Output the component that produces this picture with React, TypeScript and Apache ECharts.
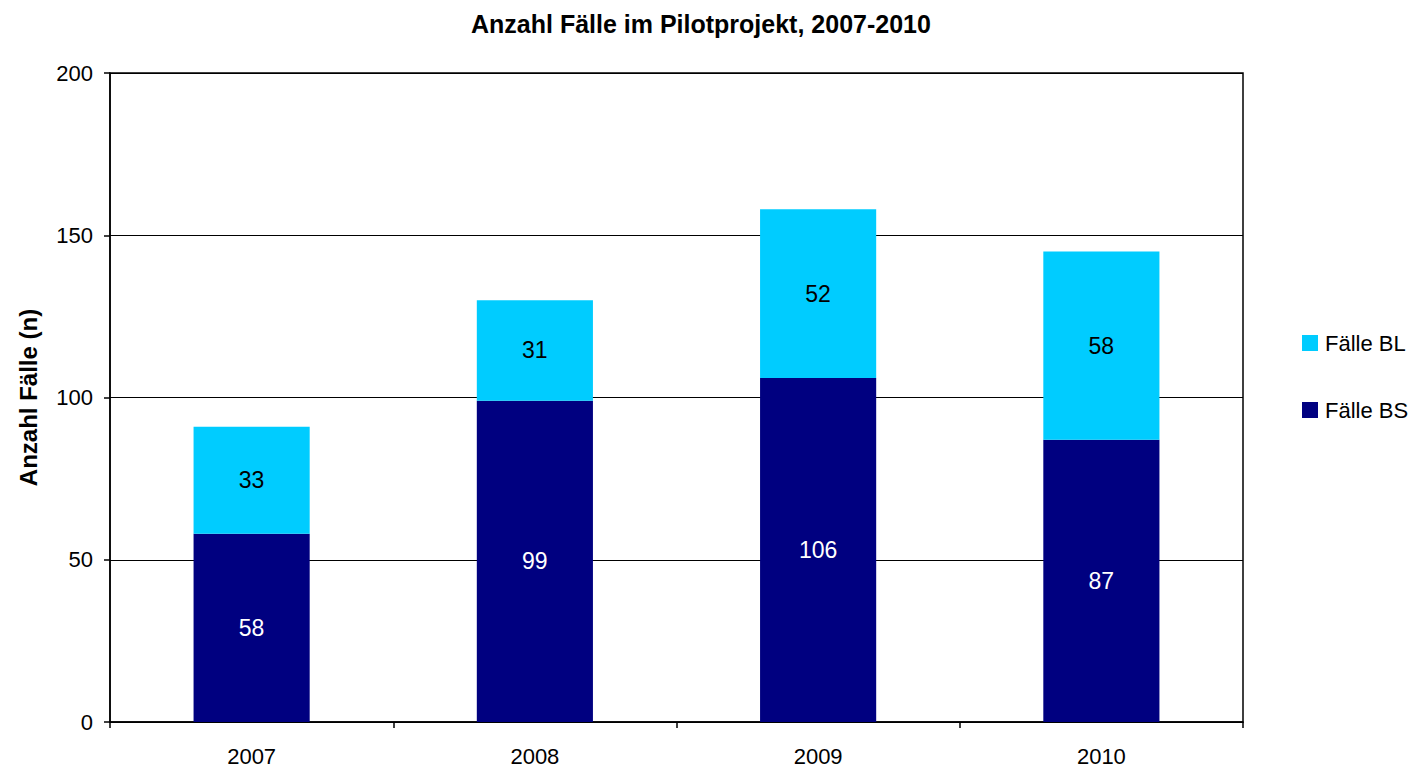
import React, { useEffect, useRef } from "react";
import * as echarts from "echarts";

const categories = ["2007", "2008", "2009", "2010"];
const faelleBS = [58, 99, 106, 87];
const faelleBL = [33, 31, 52, 58];
const yTicks = { min: 0, max: 200, interval: 50 };

const FONT = "'Liberation Sans', Arial, sans-serif";

export default function App() {
  const ref = useRef<HTMLDivElement>(null);
  useEffect(() => {
    document.body.style.margin = "0";
    const chart = echarts.init(ref.current!, undefined, { renderer: "svg" });
    chart.setOption({
      animation: false,
      backgroundColor: "#fff",
      textStyle: { fontFamily: FONT },
      title: {
        text: "Anzahl Fälle im Pilotprojekt, 2007-2010",
        left: 466,
        top: 6,
        textStyle: { fontFamily: FONT, fontSize: 25, fontWeight: "bold", color: "#000" },
      },
      legend: {
        orient: "vertical",
        left: 1297,
        top: 327,
        itemWidth: 16,
        itemHeight: 16,
        itemGap: 45,
        icon: "rect",
        data: ["Fälle BL", "Fälle BS"],
        textStyle: { fontFamily: FONT, fontSize: 22, color: "#000", padding: [0, 0, 0, 2] },
      },
      grid: {
        left: 110,
        right: 168,
        top: 73,
        bottom: 49,
        show: true,
        borderColor: "#000",
        borderWidth: 1.5,
        backgroundColor: "transparent",
      },
      xAxis: {
        type: "category",
        data: categories,
        axisLine: { lineStyle: { color: "#000", width: 1.5 } },
        axisTick: { show: true, alignWithLabel: false, length: 6, lineStyle: { color: "#000", width: 1.5 } },
        axisLabel: { fontFamily: FONT, fontSize: 22, color: "#000", margin: 23 },
      },
      yAxis: {
        type: "value",
        min: yTicks.min,
        max: yTicks.max,
        interval: yTicks.interval,
        name: "Anzahl Fälle (n)",
        nameLocation: "middle",
        nameGap: 70,
        nameTextStyle: { fontFamily: FONT, fontSize: 24, fontWeight: "bold", color: "#000" },
        axisLine: { show: true, lineStyle: { color: "#000", width: 1.5 } },
        axisTick: { show: true, length: 6, lineStyle: { color: "#000", width: 1.5 } },
        axisLabel: { fontFamily: FONT, fontSize: 22, color: "#000", margin: 17 },
        splitLine: { show: true, lineStyle: { color: "#000", width: 1.2 } },
      },
      series: [
        {
          name: "Fälle BS",
          type: "bar",
          stack: "total",
          data: faelleBS,
          barWidth: "41%",
          itemStyle: { color: "#000080" },
          label: { show: true, position: "inside", color: "#fff", fontFamily: FONT, fontSize: 23 },
        },
        {
          name: "Fälle BL",
          type: "bar",
          stack: "total",
          data: faelleBL,
          barWidth: "41%",
          itemStyle: { color: "#00CCFF" },
          label: { show: true, position: "inside", color: "#000", fontFamily: FONT, fontSize: 23 },
        },
      ],
    });
    return () => chart.dispose();
  }, []);
  return <div ref={ref} style={{ width: 1411, height: 771 }} />;
}
